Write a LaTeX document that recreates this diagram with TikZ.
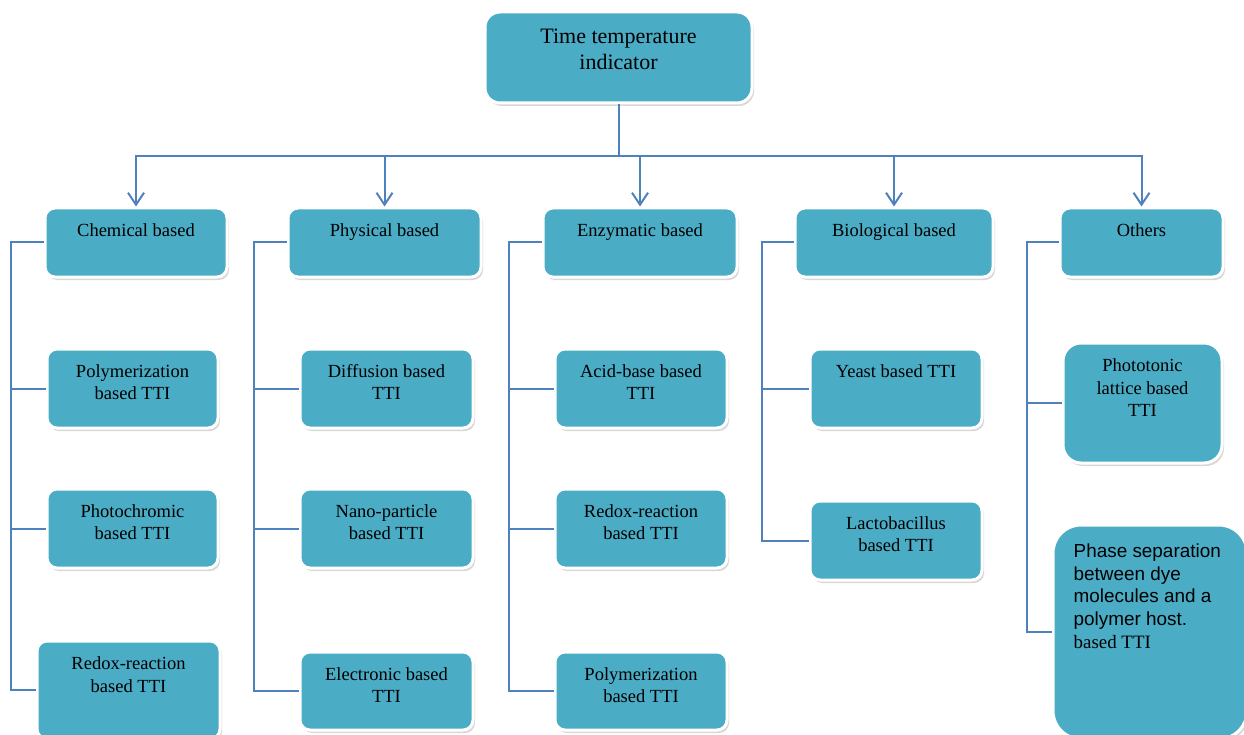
\documentclass[tikz,border=0pt]{standalone}
\usepackage{fontspec}
\setmainfont{Liberation Serif}
\newfontfamily\arialfont{Liberation Sans}
\usetikzlibrary{arrows.meta,shadows}
\definecolor{boxfill}{HTML}{4BACC6}
\definecolor{linecol}{HTML}{4F81BD}
\begin{document}
\begin{tikzpicture}[x=1pt,y=-1pt,
  box/.style={draw=white, line width=3pt, fill=boxfill, rounded corners=10pt,
    drop shadow={opacity=0.3, shadow xshift=2pt, shadow yshift=-3pt}, inner sep=0pt},
  txt/.style={font=\fontsize{18.5}{22.5}\selectfont, align=center, inner sep=0pt, anchor=north, text=black},
  conn/.style={draw=linecol, line width=2pt},
  arr/.style={conn, -{Straight Barb[length=12pt,width=16pt,line width=2pt]}}]
\useasboundingbox (0,0) rectangle (1244,735);
\clip (0,0) rectangle (1244,735);
\fill[white] (0,0) rectangle (1244,735);

% root
\node[box, minimum width=267pt, minimum height=91pt, rounded corners=15pt] (top) at (618.5,57.5) {};
\node[txt, font=\fontsize{22}{26.5}\selectfont] (top-t) at ([yshift=-18pt]top.north) {Time temperature\\indicator};

% categories
\node[box, minimum width=182pt, minimum height=69pt] (chem) at (136,242.5) {};
\node[box, minimum width=193pt, minimum height=69pt] (phys) at (384.5,242.5) {};
\node[box, minimum width=194pt, minimum height=69pt] (enz) at (640,242.5) {};
\node[box, minimum width=198pt, minimum height=69pt] (bio) at (894,242.5) {};
\node[box, minimum width=163pt, minimum height=69pt] (oth) at (1141.5,242.5) {};
\node[txt] (chem-t) at ([yshift=-17pt]chem.north) {Chemical based};
\node[txt] (phys-t) at ([yshift=-17pt]phys.north) {Physical based};
\node[txt] (enz-t) at ([yshift=-17pt]enz.north) {Enzymatic based};
\node[txt] (bio-t) at ([yshift=-17pt]bio.north) {Biological based};
\node[txt] (oth-t) at ([yshift=-17pt]oth.north) {Others};

% chemical children
\node[box, minimum width=171pt, minimum height=79pt] (poly1) at (132.5,388.5) {};
\node[box, minimum width=171pt, minimum height=79pt] (photo) at (132.5,528.5) {};
\node[box, minimum width=183pt, minimum height=98pt] (redox1) at (128.5,690) {};
\node[txt] (poly1-t) at ([yshift=-16.5pt]poly1.north) {Polymerization\\based TTI};
\node[txt] (photo-t) at ([yshift=-16.5pt]photo.north) {Photochromic\\based TTI};
\node[txt] (redox1-t) at ([yshift=-17pt]redox1.north) {Redox-reaction\\based TTI};

% physical children
\node[box, minimum width=173pt, minimum height=79pt] (diff) at (386.5,388.5) {};
\node[box, minimum width=173pt, minimum height=79pt] (nano) at (386.5,528.5) {};
\node[box, minimum width=173pt, minimum height=78pt] (elec) at (386.5,691) {};
\node[txt] (diff-t) at ([yshift=-16.5pt]diff.north) {Diffusion based\\TTI};
\node[txt] (nano-t) at ([yshift=-16.5pt]nano.north) {Nano-particle\\based TTI};
\node[txt] (elec-t) at ([yshift=-16.5pt]elec.north) {Electronic based\\TTI};

% enzymatic children
\node[box, minimum width=172pt, minimum height=79pt] (acid) at (641,388.5) {};
\node[box, minimum width=172pt, minimum height=79pt] (redox2) at (641,528.5) {};
\node[box, minimum width=172pt, minimum height=78pt] (poly2) at (641,691) {};
\node[txt] (acid-t) at ([yshift=-16.5pt]acid.north) {Acid-base based\\TTI};
\node[txt] (redox2-t) at ([yshift=-16.5pt]redox2.north) {Redox-reaction\\based TTI};
\node[txt] (poly2-t) at ([yshift=-16.5pt]poly2.north) {Polymerization\\based TTI};

% biological children
\node[box, minimum width=172pt, minimum height=79pt] (yeast) at (896,388.5) {};
\node[box, minimum width=172pt, minimum height=79pt] (lacto) at (896,540.5) {};
\node[txt] (yeast-t) at ([yshift=-16.5pt]yeast.north) {Yeast based TTI};
\node[txt] (lacto-t) at ([yshift=-16.5pt]lacto.north) {Lactobacillus\\based TTI};

% others children
\node[box, minimum width=159pt, minimum height=120pt, rounded corners=18pt] (phot) at (1142.5,403) {};
\node[txt] (phot-t) at ([yshift=-17pt]phot.north) {Phototonic\\lattice based\\TTI};
\node[box, minimum width=194pt, minimum height=214pt, rounded corners=28pt] (phase) at (1150,632) {};
\node[txt, anchor=north west, align=left, font=\arialfont\fontsize{18.9}{22.7}\selectfont] (phase-t)
  at ([xshift=22pt,yshift=-20pt]phase.north west)
  {Phase separation\\between dye\\molecules and a\\polymer host.\\{\rmfamily based TTI}};

% root connectors
\foreach \c in {chem,phys,enz,bio,oth}
  \draw[arr] (top.south) -- ++(0,52) -| (\c.north);

% branch connectors
\foreach \c in {poly1,photo,redox1} \draw[conn] (chem.west) -- ++(-33,0) |- (\c.west);
\foreach \c in {diff,nano,elec} \draw[conn] (phys.west) -- ++(-33,0) |- (\c.west);
\foreach \c in {acid,redox2,poly2} \draw[conn] (enz.west) -- ++(-33,0) |- (\c.west);
\foreach \c in {yeast,lacto} \draw[conn] (bio.west) -- ++(-32,0) |- (\c.west);
\foreach \c in {phot,phase} \draw[conn] (oth.west) -- ++(-32,0) |- (\c.west);
\end{tikzpicture}
\end{document}
